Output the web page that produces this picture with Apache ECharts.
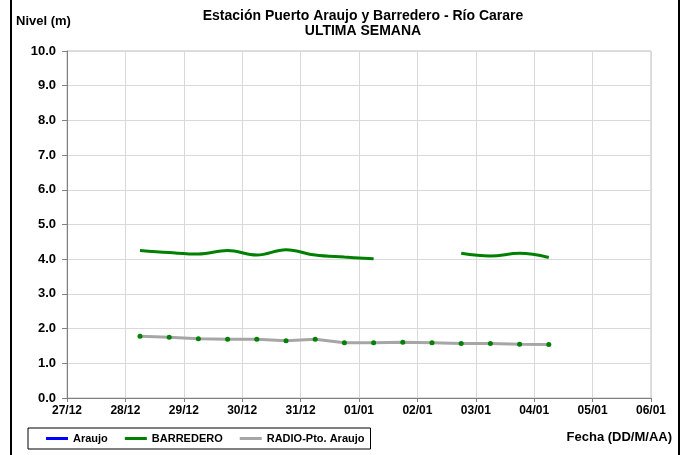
<!DOCTYPE html>
<html>
<head>
<meta charset="utf-8">
<script src="https://cdn.jsdelivr.net/npm/echarts@6/dist/echarts.min.js"></script>
<style>
  html, body { margin: 0; padding: 0; background: #fff; }
  #chart { width: 684px; height: 455px; }
</style>
</head>
<body>
<div id="chart"></div>
<script>
// Datos (cada 12 horas)
var fechas = [
  '2014-12-28 06:00', '2014-12-28 18:00', '2014-12-29 06:00', '2014-12-29 18:00',
  '2014-12-30 06:00', '2014-12-30 18:00', '2014-12-31 06:00', '2014-12-31 18:00',
  '2015-01-01 06:00', '2015-01-01 18:00', '2015-01-02 06:00', '2015-01-02 18:00',
  '2015-01-03 06:00', '2015-01-03 18:00', '2015-01-04 06:00'
];
var araujo = [];
var barredero = [4.25, 4.19, 4.15, 4.25, 4.12, 4.27, 4.12, 4.06, 4.01, null, null, 4.17, 4.09, 4.17, 4.05];
var radio = [1.78, 1.75, 1.71, 1.69, 1.69, 1.65, 1.69, 1.59, 1.59, 1.61, 1.59, 1.57, 1.57, 1.55, 1.54];

var fechaInicio = '2014-12-27 00:00';
var fechaFin = '2015-01-06 00:00';

var fuente = '"Liberation Sans", Arial, sans-serif';

function toMs(s) {
  var p = s.split(/[- :]/).map(Number);
  return Date.UTC(p[0], p[1] - 1, p[2], p[3], p[4]);
}
function pad(n) { return n < 10 ? '0' + n : '' + n; }
function serie(valores) {
  return valores.map(function (v, i) { return [toMs(fechas[i]), v]; });
}

var myChart = echarts.init(document.getElementById('chart'));

var option = {
  animation: false,
  backgroundColor: '#fff',
  textStyle: { fontFamily: fuente },
  title: {
    text: 'Estación Puerto Araujo y Barredero - Río Carare\nULTIMA SEMANA',
    left: 358,
    top: 4,
    textAlign: 'center',
    textStyle: { fontSize: 14, fontWeight: 'bold', color: '#000', lineHeight: 15, fontFamily: fuente }
  },
  legend: {
    left: 28,
    top: 428,
    itemWidth: 22,
    itemHeight: 3,
    itemGap: 17,
    padding: [5, 6, 5, 18],
    borderColor: '#000',
    borderWidth: 1,
    textStyle: { fontSize: 11, fontWeight: 'bold', color: '#000', fontFamily: fuente },
    data: [
      { name: 'Araujo', icon: 'rect' },
      { name: 'BARREDERO', icon: 'rect' },
      { name: 'RADIO-Pto. Araujo', icon: 'rect', itemStyle: { color: '#a6a6a6' } }
    ]
  },
  grid: {
    left: 67,
    right: 33,
    top: 51,
    bottom: 57,
    show: true,
    borderColor: '#bfbfbf',
    borderWidth: 1
  },
  xAxis: {
    type: 'value',
    min: toMs(fechaInicio),
    max: toMs(fechaFin),
    interval: 86400000,
    axisLine: { lineStyle: { color: '#808080', width: 1 } },
    axisTick: { show: true, length: 4, lineStyle: { color: '#808080' } },
    splitLine: { show: true, lineStyle: { color: '#d9d9d9', width: 1 } },
    axisLabel: {
      margin: 7,
      fontSize: 12,
      fontWeight: 'bold',
      color: '#000',
      fontFamily: fuente,
      formatter: function (v) {
        var d = new Date(v);
        return pad(d.getUTCDate()) + '/' + pad(d.getUTCMonth() + 1);
      }
    }
  },
  yAxis: {
    type: 'value',
    min: 0,
    max: 10,
    interval: 1,
    axisLine: { show: true, lineStyle: { color: '#808080', width: 1 } },
    axisTick: { show: true, length: 5, lineStyle: { color: '#808080' } },
    splitLine: { show: true, lineStyle: { color: '#d9d9d9', width: 1 } },
    axisLabel: {
      margin: 11,
      fontSize: 13,
      fontWeight: 'bold',
      color: '#000',
      fontFamily: fuente,
      formatter: function (v) { return v.toFixed(1); }
    }
  },
  series: [
    {
      name: 'Araujo',
      type: 'line',
      data: serie(araujo),
      symbol: 'none',
      itemStyle: { color: '#0000ff' },
      lineStyle: { color: '#0000ff', width: 3 }
    },
    {
      name: 'BARREDERO',
      type: 'line',
      data: serie(barredero),
      smooth: 0.4,
      connectNulls: false,
      symbol: 'none',
      itemStyle: { color: '#008000' },
      lineStyle: { color: '#008000', width: 3 }
    },
    {
      name: 'RADIO-Pto. Araujo',
      type: 'line',
      data: serie(radio),
      symbol: 'circle',
      symbolSize: 5,
      itemStyle: { color: '#008000', borderWidth: 0 },
      lineStyle: { color: '#a6a6a6', width: 3 }
    }
  ],
  graphic: [
    { type: 'rect', left: 10, top: 0, shape: { width: 2, height: 455 }, style: { fill: '#000' } },
    { type: 'rect', left: 678, top: 0, shape: { width: 2, height: 455 }, style: { fill: '#000' } },
    {
      type: 'text', left: 16, top: 15,
      style: { text: 'Nivel (m)', fontSize: 13, fontWeight: 'bold', fill: '#000', fontFamily: fuente }
    },
    {
      type: 'text', right: 12, top: 431,
      style: { text: 'Fecha (DD/M/AA)', fontSize: 13, fontWeight: 'bold', fill: '#000', fontFamily: fuente }
    }
  ]
};

myChart.setOption(option);
</script>
</body>
</html>
